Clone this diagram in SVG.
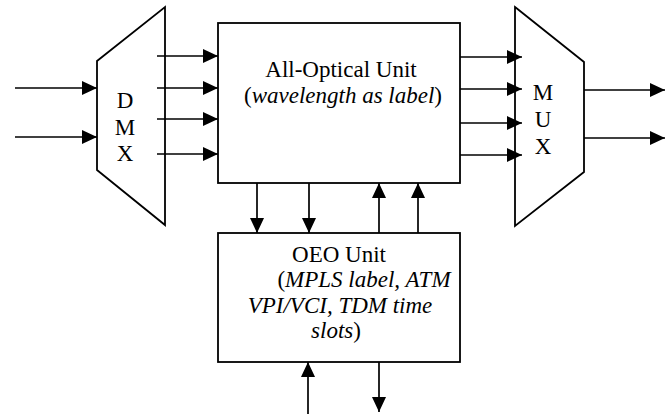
<svg xmlns="http://www.w3.org/2000/svg" width="667" height="414" viewBox="0 0 667 414">
<style>
.shape{fill:#fff;stroke:#000;stroke-width:1.8}
.ln{fill:none;stroke:#000;stroke-width:1.7;marker-end:url(#ah)}
.t{font-family:'Liberation Serif','Times New Roman',serif;font-size:23px;fill:#000;text-anchor:middle}
.it{font-style:italic}
</style>
<defs>
<marker id="ah" viewBox="0 0 15 14" refX="15" refY="7" markerWidth="15" markerHeight="14" markerUnits="userSpaceOnUse" orient="auto">
<path d="M0,0 L15,7 L0,14 z" fill="#000"/>
</marker>
</defs>
<rect width="667" height="414" fill="#fff"/>
<g id="dmx">
<polygon class="shape" points="97,61 165,7 165,225 97,170"/>
<g class="t">
<text x="125" y="108">D</text>
<text x="125" y="134.5">M</text>
<text x="125" y="161">X</text>
</g>
</g>
<g id="all-optical">
<rect class="shape" x="218" y="23" width="242" height="160"/>
<g class="t">
<text x="341" y="77">All-Optical Unit</text>
<text x="343" y="103">(<tspan class="it">wavelength as label</tspan>)</text>
</g>
</g>
<g id="mux">
<polygon class="shape" points="515,7 584,62 584,172 515,226"/>
<g class="t">
<text x="543" y="100">M</text>
<text x="543" y="127">U</text>
<text x="543" y="154">X</text>
</g>
</g>
<g id="oeo">
<rect class="shape" x="218" y="233" width="242" height="129"/>
<g class="t">
<text x="339" y="262">OEO Unit</text>
<text x="364" y="287">(<tspan class="it">MPLS label, ATM</tspan></text>
<text x="340" y="313" class="it">VPI/VCI, TDM time</text>
<text x="336" y="338"><tspan class="it">slots</tspan>)</text>
</g>
</g>
<g id="connectors">
<line class="ln" x1="15" y1="88" x2="97" y2="88"/>
<line class="ln" x1="15" y1="137" x2="97" y2="137"/>
<line class="ln" x1="157" y1="56" x2="218" y2="56"/>
<line class="ln" x1="157" y1="88" x2="218" y2="88"/>
<line class="ln" x1="157" y1="119" x2="218" y2="119"/>
<line class="ln" x1="157" y1="154" x2="218" y2="154"/>
<line class="ln" x1="460" y1="57" x2="522" y2="57"/>
<line class="ln" x1="460" y1="89" x2="522" y2="89"/>
<line class="ln" x1="460" y1="123" x2="522" y2="123"/>
<line class="ln" x1="460" y1="155" x2="522" y2="155"/>
<line class="ln" x1="584" y1="90" x2="665" y2="90"/>
<line class="ln" x1="584" y1="138" x2="665" y2="138"/>
<line class="ln" x1="257" y1="183" x2="257" y2="233"/>
<line class="ln" x1="309" y1="183" x2="309" y2="233"/>
<line class="ln" x1="379" y1="233" x2="379" y2="183"/>
<line class="ln" x1="418" y1="233" x2="418" y2="183"/>
<line class="ln" x1="308" y1="414" x2="308" y2="362"/>
<line class="ln" x1="379" y1="362" x2="379" y2="412"/>
</g>
</svg>
